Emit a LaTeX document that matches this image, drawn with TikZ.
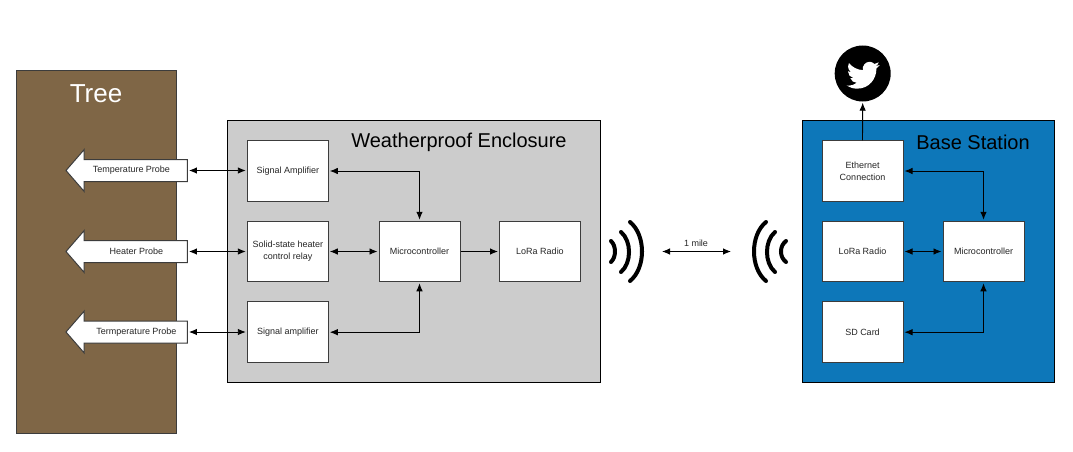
\documentclass[tikz,border=0pt]{standalone}
\usepackage{fontspec}
\setmainfont{Liberation Sans}
\usetikzlibrary{arrows.meta,shapes.arrows}
\definecolor{treeBrown}{RGB}{127,102,70}
\definecolor{boxGray}{RGB}{204,204,204}
\definecolor{baseBlue}{RGB}{13,119,185}
\definecolor{edgeGray}{RGB}{60,60,60}
\tikzset{
    >={Latex[length=8pt,width=6.5pt]},
    panel/.style={draw=black, line width=0.9pt, anchor=north west, inner sep=0pt},
    unitbox/.style={draw=edgeGray, line width=1pt, fill=white, minimum width=81pt, minimum height=60.5pt,
        inner sep=1pt, align=center, font=\fontsize{9}{12}\selectfont, text=black!85},
    probe/.style={single arrow, draw=edgeGray, line width=1pt, fill=white, shape border rotate=180,
        minimum height=121.5pt, single arrow head extend=10pt,
        single arrow head indent=0pt, single arrow tip angle=98, inner sep=0pt},
    probelabel/.style={font=\fontsize{9}{12}\selectfont, text=black!85},
    title/.style={font=\fontsize{20}{24}\selectfont, text=black},
    link/.style={<->, line width=0.9pt, shorten <=1pt, shorten >=1pt},
    wave/.style={line width=4pt, line cap=round}
}
\newcommand{\shaft}{\rule{0pt}{21pt}}
\begin{document}
\begin{tikzpicture}[x=1pt, y=-1pt]
    \useasboundingbox (0.5,0.5) rectangle (1073.5,452.5);

    % Tree
    \node[panel, fill=treeBrown, draw=edgeGray, minimum width=160.5pt, minimum height=363pt] (tree) at (16,70) {};
    \node[font=\fontsize{26}{30}\selectfont, text=white] (treelabel) at (96.5,94) {Tree};

    % Enclosure and base station
    \node[panel, fill=boxGray, minimum width=373pt, minimum height=261.5pt] (encl) at (227.5,120.5) {};
    \node[title] (encllabel) at (459.5,142.5) {Weatherproof Enclosure};
    \node[panel, fill=baseBlue, minimum width=252pt, minimum height=261.5pt] (base) at (802,120.5) {};
    \node[title] (baselabel) at (973.5,142.5) {Base Station};

    % Probes
    \node[probe] (probeA) at (132,171) {\shaft};
    \node[probelabel] (probeAtext) at (132,171) {Temperature Probe};
    \node[probe] (probeB) at (132,252) {\shaft};
    \node[probelabel] (probeBtext) at (137,251.5) {Heater Probe};
    \node[probe] (probeC) at (132,332.5) {\shaft};
    \node[probelabel] (probeCtext) at (137,332.5) {Termperature Probe};

    % Enclosure units
    \node[unitbox] (ampA) at (288.3,171.5) {Signal Amplifier};
    \node[unitbox] (relay) at (288.3,252) {Solid-state heater\\control relay};
    \node[unitbox] (ampB) at (288.3,332.7) {Signal amplifier};
    \node[unitbox] (micro) at (420,252) {Microcontroller};
    \node[unitbox] (lora) at (540.5,252) {LoRa Radio};

    % Base station units
    \node[unitbox] (ether) at (863,171.5) {Ethernet\\Connection};
    \node[unitbox] (baselora) at (863,252) {LoRa Radio};
    \node[unitbox] (sdcard) at (863,332.7) {SD Card};
    \node[unitbox] (basemicro) at (984,252) {Microcontroller};

    % Twitter badge
    \node[circle, fill=black, minimum size=56pt, inner sep=0pt] (twitter) at (863.2,74) {};
    \begin{scope}[shift={(847.2,59.25)}, x=1.375pt, y=-1.375pt]
        \fill[white] (23.953,4.57) .. controls (23.1,4.95) and (22.1,5.22) .. (21.128,5.345)
            .. controls (22.15,4.73) and (22.93,3.77) .. (23.291,2.622)
            .. controls (22.34,3.177) and (21.286,3.581) .. (20.164,3.806)
            .. controls (19.25,2.83) and (17.98,2.2) .. (16.57,2.2)
            .. controls (13.85,2.2) and (11.07,5.0) .. (11.78,8.288)
            .. controls (7.69,8.095) and (4.067,6.13) .. (1.64,3.162)
            .. controls (1.21,3.89) and (0.974,4.74) .. (0.974,5.637)
            .. controls (0.974,7.347) and (1.844,8.85) .. (3.162,9.733)
            .. controls (2.35,9.71) and (1.59,9.48) .. (0.934,9.117)
            -- (0.934,9.177)
            .. controls (0.934,11.5) and (2.6,13.55) .. (4.88,14.004)
            .. controls (4.17,14.2) and (3.4,14.23) .. (2.668,14.089)
            .. controls (3.3,16.0) and (5.1,17.45) .. (7.272,17.506)
            .. controls (5.6,18.8) and (3.5,19.611) .. (1.17,19.611)
            .. controls (0.78,19.611) and (0.391,19.588) .. (0,19.544)
            .. controls (2.2,20.95) and (4.8,21.753) .. (7.557,21.753)
            .. controls (16.61,21.753) and (21.555,14.257) .. (21.555,7.768)
            .. controls (21.555,7.558) and (21.555,7.348) .. (21.54,7.138)
            .. controls (22.5,6.45) and (23.35,5.55) .. (24,4.59) -- cycle;
    \end{scope}

    % Radio waves
    \foreach \xa/\xc/\ya/\yc/\yd/\yb in {630.5/646.5/222.5/235.5/268.5/281.5, 621.5/632.2/232.5/241.5/263.5/272.5, 611.5/616.8/241.5/246.5/257.5/262.5,
                                         766.5/750.5/222.5/235.5/268.5/281.5, 775.5/764.8/232.5/241.5/263.5/272.5, 786.5/779.8/241.5/246.5/257.5/262.5} {
        \draw[wave] (\xa,\ya) .. controls (\xc,\yc) and (\xc,\yd) .. (\xa,\yb);
    }

    % Links
    \draw[link] (probeA.tail) -- (probeA.tail -| ampA.west);
    \draw[link] (probeB.tail) -- (relay.west);
    \draw[link] (probeC.tail) -- (probeC.tail -| ampB.west);
    \draw[link] (ampA.east) -| (micro.north);
    \draw[link] (relay.east) -- (micro.west);
    \draw[link] (ampB.east) -| (micro.south);
    \draw[->, line width=0.9pt, shorten >=1pt] (micro.east) -- (lora.west);
    \draw[link] (ether.east) -| (basemicro.north);
    \draw[link] (baselora.east) -- (basemicro.west);
    \draw[link] (sdcard.east) -| (basemicro.south);
    \draw[->, line width=0.9pt, shorten >=1pt] (ether.north) -- (twitter.south);

    % Distance
    \coordinate (mileL) at (662.5,252);
    \coordinate (mileR) at (731.5,252);
    \draw[<->, line width=0.9pt] (mileL) -- (mileR);
    \node[probelabel] (mile) at (696.5,243.5) {1 mile};
\end{tikzpicture}
\end{document}
